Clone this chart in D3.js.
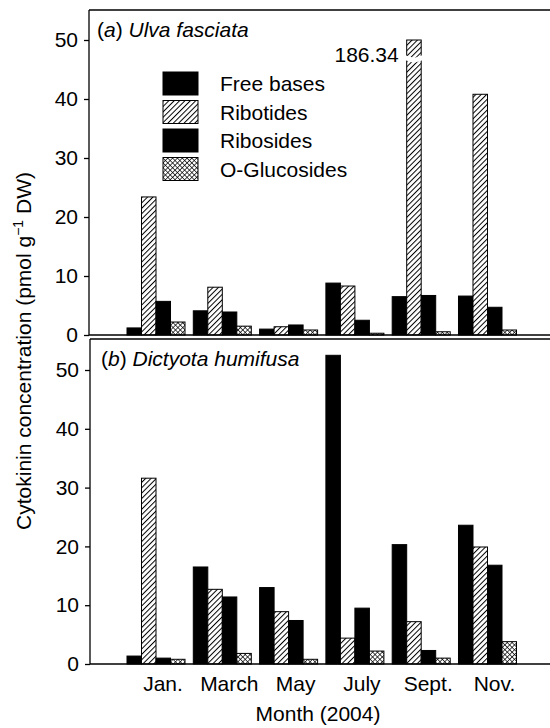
<!DOCTYPE html>
<html lang="en">
  <head>
    <meta charset="UTF-8" />
    <title>Cytokinin concentration</title>
    <style>
      body { margin: 0; background: #fff; }
      svg { display: block; font-family: "Liberation Sans", Arial, sans-serif; }
    </style>
  </head>
  <body>
    <svg width="550" height="728"></svg>

    <script src="https://d3js.org/d3.v7.min.js"></script>
    <script>
      (function () {
        "use strict";

        // data
        var months = ["Jan.", "March", "May", "July", "Sept.", "Nov."];
        var seriesNames = ["Free bases", "Ribotides", "Ribosides", "O-Glucosides"];
        var yTicks = [0, 10, 20, 30, 40, 50];

        var ulvaFreeBases = [1.2, 4.1, 1.0, 8.8, 6.5, 6.6];
        var ulvaRibotides = [23.4, 8.1, 1.4, 8.3, 186.34, 40.8];
        var ulvaRibosides = [5.7, 3.9, 1.7, 2.5, 6.7, 4.7];
        var ulvaOGlucosides = [2.2, 1.5, 0.85, 0.3, 0.55, 0.85];

        var dictyotaFreeBases = [1.35, 16.5, 13.0, 52.5, 20.3, 23.6];
        var dictyotaRibotides = [31.6, 12.7, 8.9, 4.4, 7.2, 19.9];
        var dictyotaRibosides = [1.0, 11.4, 7.4, 9.5, 2.3, 16.8];
        var dictyotaOGlucosides = [0.8, 1.8, 0.8, 2.2, 1.0, 3.8];

        var FONT = 21;

        var svg = d3.select("svg");

        // fills: solid / hatched / solid / cross-hatched
        var defs = svg.append("defs");
        defs.append("pattern")
          .attr("id", "hatch")
          .attr("patternUnits", "userSpaceOnUse")
          .attr("width", 3.8).attr("height", 3.8)
          .attr("patternTransform", "rotate(45)")
          .call(function (p) {
            p.append("rect").attr("width", 3.8).attr("height", 3.8).attr("fill", "#fff");
            p.append("line").attr("x1", 0).attr("y1", 0).attr("x2", 0).attr("y2", 3.8)
              .attr("stroke", "#000").attr("stroke-width", 2);
          });
        defs.append("pattern")
          .attr("id", "cross")
          .attr("patternUnits", "userSpaceOnUse")
          .attr("width", 3.4).attr("height", 3.4)
          .attr("patternTransform", "rotate(45)")
          .call(function (p) {
            p.append("rect").attr("width", 3.4).attr("height", 3.4).attr("fill", "#fff");
            p.append("line").attr("x1", 0).attr("y1", 0).attr("x2", 0).attr("y2", 3.4)
              .attr("stroke", "#000").attr("stroke-width", 1.4);
            p.append("line").attr("x1", 0).attr("y1", 0).attr("x2", 3.4).attr("y2", 0)
              .attr("stroke", "#000").attr("stroke-width", 1.4);
          });
        var fills = ["#000", "url(#hatch)", "#000", "url(#cross)"];

        var x = d3.scaleBand().domain(months).range([127, 516.5]).paddingInner(0.125);
        var xs = d3.scaleBand().domain(seriesNames).range([0, x.bandwidth()]);

        // panel (a) is cut at 50 with a break mark, panel (b) is not
        var panels = [
          { title: ["(", "a", ") ", "Ulva fasciata"], top: 10, base: 335, y50: 40, cap: 50,
            values: [ulvaFreeBases, ulvaRibotides, ulvaRibosides, ulvaOGlucosides] },
          { title: ["(", "b", ") ", "Dictyota humifusa"], top: 339, base: 664, y50: 370, cap: Infinity,
            values: [dictyotaFreeBases, dictyotaRibotides, dictyotaRibosides, dictyotaOGlucosides] }
        ];

        panels.forEach(function (p, pi) {
          var y = d3.scaleLinear().domain([0, 50]).range([p.base, p.y50]);
          var g = svg.append("g");
          var left = 89 + pi;

          var rows = [];
          months.forEach(function (m, i) {
            seriesNames.forEach(function (s, j) {
              rows.push({ month: m, series: s, j: j, v: p.values[j][i] });
            });
          });

          g.selectAll("rect.bar")
            .data(rows)
            .enter()
            .append("rect")
            .attr("class", "bar")
            .attr("x", function (d) { return x(d.month) + xs(d.series); })
            .attr("width", xs.bandwidth())
            .attr("y", function (d) { return y(Math.min(d.v, p.cap)); })
            .attr("height", function (d) { return p.base - y(Math.min(d.v, p.cap)); })
            .attr("fill", function (d) { return fills[d.j]; })
            .attr("stroke", "#000")
            .attr("stroke-width", 1);

          // break mark + value for clipped bars
          rows.filter(function (d) { return d.v > p.cap; }).forEach(function (d) {
            var bx = x(d.month) + xs(d.series);
            var bw = xs.bandwidth();
            var by = y(p.cap) + 17;
            g.append("path")
              .attr("d", "M" + (bx - 2) + "," + (by - 2) + "L" + (bx + bw / 2) + "," + (by + 1) +
                "L" + (bx + bw + 2) + "," + (by - 2) + "L" + (bx + bw + 2) + "," + (by + 3) +
                "L" + (bx + bw / 2) + "," + (by + 6) + "L" + (bx - 2) + "," + (by + 3) + "Z")
              .attr("fill", "#fff");
            g.append("text")
              .attr("x", bx - 8)
              .attr("y", y(p.cap) + 22)
              .attr("text-anchor", "end")
              .attr("font-size", FONT)
              .text(d3.format(".2f")(d.v));
          });

          // frame: left, top, baseline
          g.append("line").attr("x1", left).attr("x2", left).attr("y1", p.top).attr("y2", p.base)
            .attr("stroke", "#000").attr("stroke-width", 1.3);
          g.append("line").attr("x1", left).attr("x2", 550).attr("y1", p.top).attr("y2", p.top)
            .attr("stroke", "#000").attr("stroke-width", 1.3);
          g.append("line").attr("x1", left).attr("x2", 550).attr("y1", p.base).attr("y2", p.base)
            .attr("stroke", "#000").attr("stroke-width", 1.3);

          // y axis
          var ay = g.append("g")
            .attr("transform", "translate(" + left + ",0)")
            .call(d3.axisLeft(y).tickValues(yTicks).tickSize(5).tickPadding(6).tickFormat(d3.format("d")));
          ay.select(".domain").remove();
          ay.selectAll("line").attr("stroke-width", 1.3);
          ay.selectAll("text").attr("font-size", FONT).attr("font-family", null).attr("fill", "#000");

          // panel title, italic species name
          var t = g.append("text")
            .attr("x", pi === 0 ? 97 : 101)
            .attr("y", p.top + 27)
            .attr("font-size", FONT);
          p.title.forEach(function (part, k) {
            t.append("tspan").attr("font-style", k % 2 === 1 ? "italic" : null).text(part);
          });
        });

        // month labels under lower panel
        var ax = svg.append("g")
          .attr("transform", "translate(0,664)")
          .call(d3.axisBottom(x).tickSize(0).tickPadding(12));
        ax.select(".domain").remove();
        ax.selectAll("text").attr("font-size", FONT).attr("font-family", null).attr("fill", "#000").attr("dx", 7);

        svg.append("text")
          .attr("x", 318)
          .attr("y", 721)
          .attr("text-anchor", "middle")
          .attr("font-size", FONT)
          .text("Month (2004)");

        var yl = svg.append("text")
          .attr("transform", "translate(31,351) rotate(-90)")
          .attr("text-anchor", "middle")
          .attr("font-size", FONT);
        yl.append("tspan").text("Cytokinin concentration (pmol g");
        yl.append("tspan").attr("font-size", 14).attr("dy", -8).text("\u22121");
        yl.append("tspan").attr("dy", 8).text(" DW)");

        // legend inside panel (a)
        var legend = svg.append("g").attr("transform", "translate(163,72)");
        var li = legend.selectAll("g")
          .data(seriesNames)
          .enter()
          .append("g")
          .attr("transform", function (d, i) { return "translate(0," + i * 28.5 + ")"; });
        li.append("rect")
          .attr("width", 35).attr("height", 23)
          .attr("fill", function (d, i) { return fills[i]; })
          .attr("stroke", "#000");
        li.append("text")
          .attr("x", 57).attr("y", 12)
          .attr("dy", "0.35em")
          .attr("font-size", FONT)
          .text(function (d) { return d; });
      })();
    </script>
  </body>
</html>
